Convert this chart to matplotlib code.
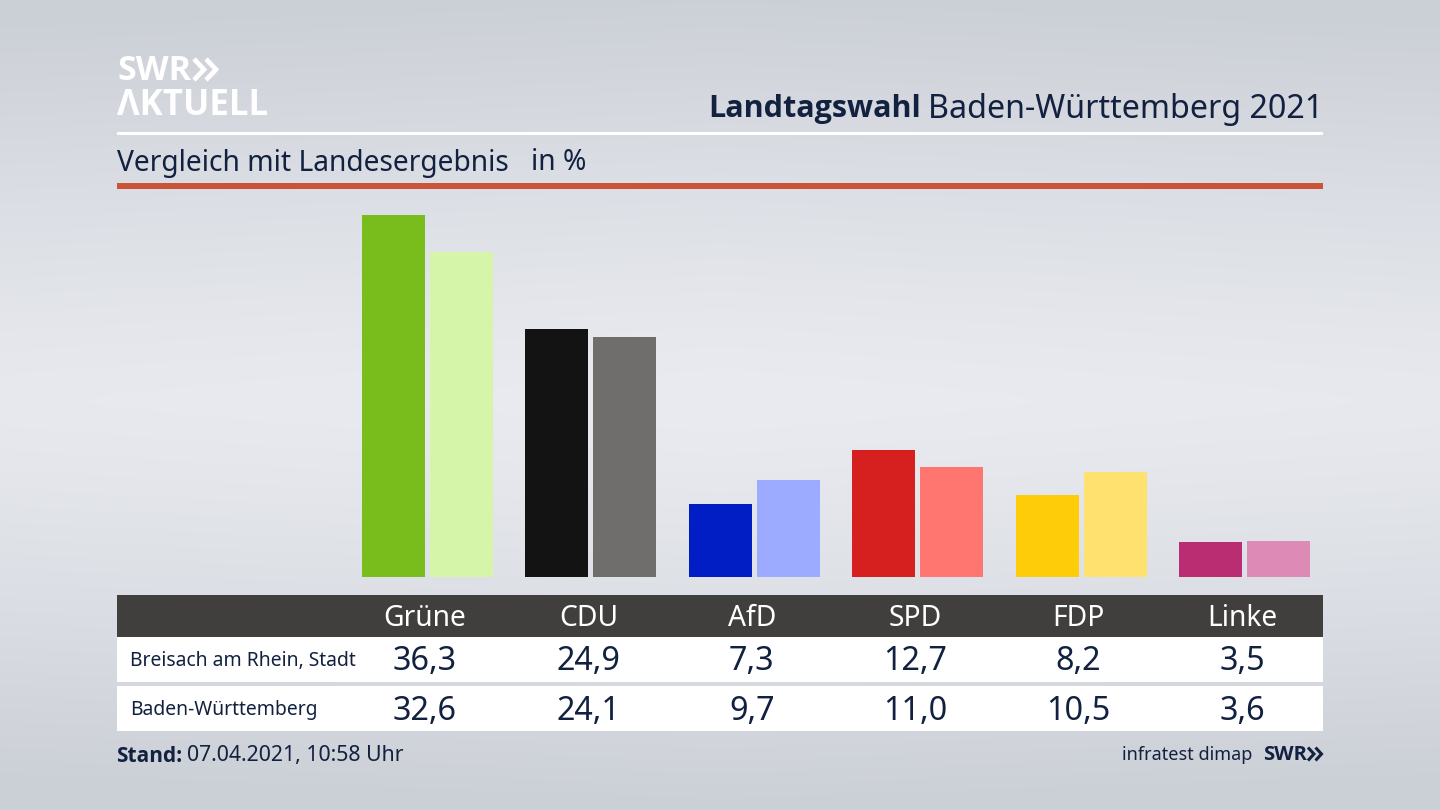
import matplotlib
matplotlib.use('Agg')
import matplotlib.pyplot as plt
import numpy as np
from matplotlib.patches import Rectangle

plt.rcParams['font.family'] = ['Noto Sans', 'DejaVu Sans']

parteien = ['Grüne', 'CDU', 'AfD', 'SPD', 'FDP', 'Linke']
breisach = [36.3, 24.9, 7.3, 12.7, 8.2, 3.5]
land = [32.6, 24.1, 9.7, 11.0, 10.5, 3.6]
farben_ort = ['#78bd1b', '#131313', '#001ec4', '#d61f1f', '#ffcc0a', '#bb2d73']
farben_land = ['#d5f5a8', '#706e6c', '#9caaff', '#ff7570', '#ffe170', '#de8ab6']
zeilen = ['Breisach am Rhein, Stadt', 'Baden-Württemberg']

DUNKEL = '#12213f'


def komma(wert):
    return f'{wert:.1f}'.replace('.', ',')


def pfeile(x0, breite, abstand, y0, y1, farbe, lw):
    # die zwei winkel vom swr logo
    for dx in (0, abstand):
        bg.plot([x0 + dx, x0 + dx + breite, x0 + dx], [y0, (y0 + y1) / 2, y1], color=farbe, lw=lw,
                solid_joinstyle='miter', solid_capstyle='butt', scalex=False, scaley=False)


fig = plt.figure(figsize=(14.4, 8.1), dpi=100)

# hintergrund und alles was in pixeln liegt
bg = fig.add_axes([0, 0, 1, 1])
bg.set_xlim(0, 1440)
bg.set_ylim(810, 0)
bg.axis('off')

yy, xx = np.mgrid[0:810, 0:1440]
t = np.abs(yy - 400) / 410
s = np.abs(xx - 720) / 720
grad = np.clip(t**1.3 + 0.08 * s, 0, 1)
oben = np.array([233, 235, 240]) / 255
rand = np.array([203, 207, 214]) / 255
bild = oben + (rand - oben) * grad[..., None]
bg.imshow(bild, extent=(0, 1440, 810, 0), aspect='auto', zorder=0)

# logo
bg.text(117, 71, 'SWR', color='white', fontsize=24.5, fontweight='bold', va='center', family='Open Sans')
pfeile(194, 10, 12, 59, 80, 'white', 3.4)
bg.text(117, 106, 'ΛKTUELL', color='white', fontsize=25, fontweight='bold', va='center', family='Open Sans')

# kopf
bg.text(1323, 109, 'Baden-Württemberg 2021', color=DUNKEL, fontsize=23.2, ha='right', va='center')
bg.text(921, 109, 'Landtagswahl', color=DUNKEL, fontsize=22, fontweight='bold', ha='right', va='center', family='Open Sans')

bg.add_patch(Rectangle((117, 132), 1206, 3, color='white', lw=0))
bg.text(117, 163, 'Vergleich mit Landesergebnis', color=DUNKEL, fontsize=20.3, va='center')
bg.text(531, 163, 'in %', color=DUNKEL, fontsize=20.3, va='center')
bg.add_patch(Rectangle((117, 183), 1206, 6, color='#cb5338', lw=0))

# tabelle
bg.add_patch(Rectangle((117, 595), 1206, 42, color='#403f3d', lw=0))
bg.add_patch(Rectangle((117, 637), 1206, 45, color='white', lw=0))
bg.add_patch(Rectangle((117, 686), 1206, 45, color='white', lw=0))

mitte = [425 + 163.4 * i for i in range(len(parteien))]
for i, name in enumerate(parteien):
    bg.text(mitte[i], 618, name, color='white', fontsize=20.3, ha='center', va='center')
    bg.text(mitte[i], 662, komma(breisach[i]), color=DUNKEL, fontsize=23.3, ha='center', va='center')
    bg.text(mitte[i], 711, komma(land[i]), color=DUNKEL, fontsize=23.3, ha='center', va='center')

bg.text(130.5, 661, zeilen[0], color=DUNKEL, fontsize=13.9, va='center')
bg.text(130.5, 710, zeilen[1], color=DUNKEL, fontsize=13.9, va='center')

# fuss
bg.text(116, 756, 'Stand:', color=DUNKEL, fontsize=15, fontweight='bold', va='center', family='Open Sans')
bg.text(187, 756, '07.04.2021, 10:58 Uhr', color=DUNKEL, fontsize=15.3, va='center')
bg.text(1252, 755, 'infratest dimap', color=DUNKEL, fontsize=13, ha='right', va='center')
bg.text(1263, 755, 'SWR', color=DUNKEL, fontsize=14.5, fontweight='bold', va='center', family='Open Sans')
pfeile(1308, 6, 7.5, 747.5, 760.5, DUNKEL, 2.2)

# balken
ax = fig.add_axes([117 / 1440, 1 - 577 / 810, 1206 / 1440, 362 / 810])
ax.patch.set_alpha(0)
ax.axis('off')
x = np.arange(len(parteien))
ax.bar(x - 0.208, breisach, width=0.386, color=farben_ort)
ax.bar(x + 0.208, land, width=0.386, color=farben_land)
ax.set_xlim((117 - 427.5) / 163.4, (1323 - 427.5) / 163.4)
ax.set_ylim(0, 36.3)

fig.savefig('out.png', dpi=100)
